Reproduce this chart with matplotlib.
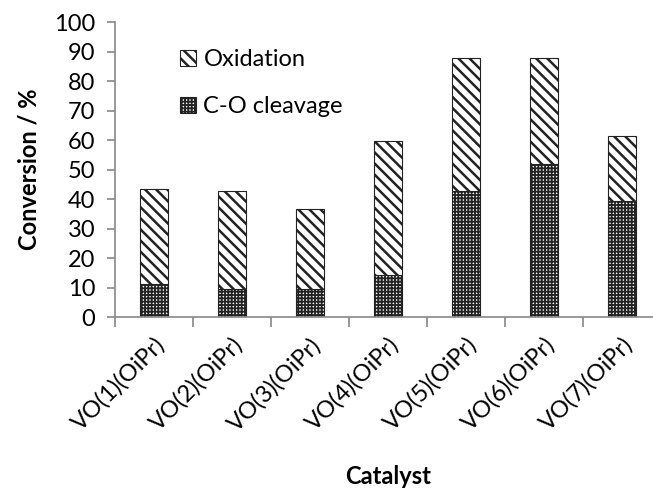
import numpy as np
import matplotlib
matplotlib.use('Agg')
import matplotlib.pyplot as plt

catalysts = ['VO(1)(OiPr)', 'VO(2)(OiPr)', 'VO(3)(OiPr)', 'VO(4)(OiPr)',
             'VO(5)(OiPr)', 'VO(6)(OiPr)', 'VO(7)(OiPr)']
cleavage = [11.2, 9.4, 9.4, 14.2, 42.8, 51.9, 39.4]
total = [43.4, 42.8, 36.5, 59.8, 87.8, 87.8, 61.3]
oxidation = [t - c for t, c in zip(total, cleavage)]

plt.rcParams['font.family'] = ['Lato', 'DejaVu Sans']

fig = plt.figure(figsize=(6.53, 4.9), dpi=100)
ax = fig.add_axes([0.176, 0.353, 0.836, 0.602])

x = np.arange(len(catalysts))
with plt.rc_context({'hatch.linewidth': 1.3}):
    b1 = ax.bar(x, cleavage, width=0.36, color='white', edgecolor='#222222',
                hatch='+++++', linewidth=0.8, label='C-O cleavage')
with plt.rc_context({'hatch.linewidth': 1.8}):
    b2 = ax.bar(x, oxidation, width=0.36, bottom=cleavage, color='white',
                edgecolor='#222222', hatch='\\\\\\', linewidth=0.8, label='Oxidation')

ax.set_xlim(-0.5, len(catalysts) - 0.5)
ax.set_ylim(0, 100)
ax.set_yticks(range(0, 101, 10))
ax.set_xticks(np.arange(len(catalysts) + 1) - 0.5, minor=True)
ax.set_xticks(x)
ax.set_xticklabels(catalysts, rotation=45, ha='right', rotation_mode='anchor', fontsize=17)
ax.tick_params(axis='x', which='major', length=0, pad=12)
ax.tick_params(axis='x', which='minor', length=7, width=1.2, color='#888888')
ax.tick_params(axis='y', length=6, width=1.2, color='#888888', labelsize=17, pad=8)

for s in ['top', 'right']:
    ax.spines[s].set_visible(False)
for s in ['left', 'bottom']:
    ax.spines[s].set_color('#888888')
    ax.spines[s].set_linewidth(1.2)

ax.set_ylabel('Conversion / %', fontsize=17, fontweight='bold', labelpad=10)
ax.set_xlabel('Catalyst', fontsize=17, fontweight='bold', labelpad=22)

leg = ax.legend([b2, b1], ['Oxidation', 'C-O cleavage'], loc='upper left',
                bbox_to_anchor=(0.08, 0.98), frameon=False, fontsize=17,
                labelspacing=1.1, handlelength=0.7, handleheight=0.7, handletextpad=0.3)
for h, lw in zip(leg.legend_handles, [1.8, 1.3]):
    if hasattr(h, 'set_hatch_linewidth'):
        h.set_hatch_linewidth(lw)

fig.savefig('out.png', dpi=100)
